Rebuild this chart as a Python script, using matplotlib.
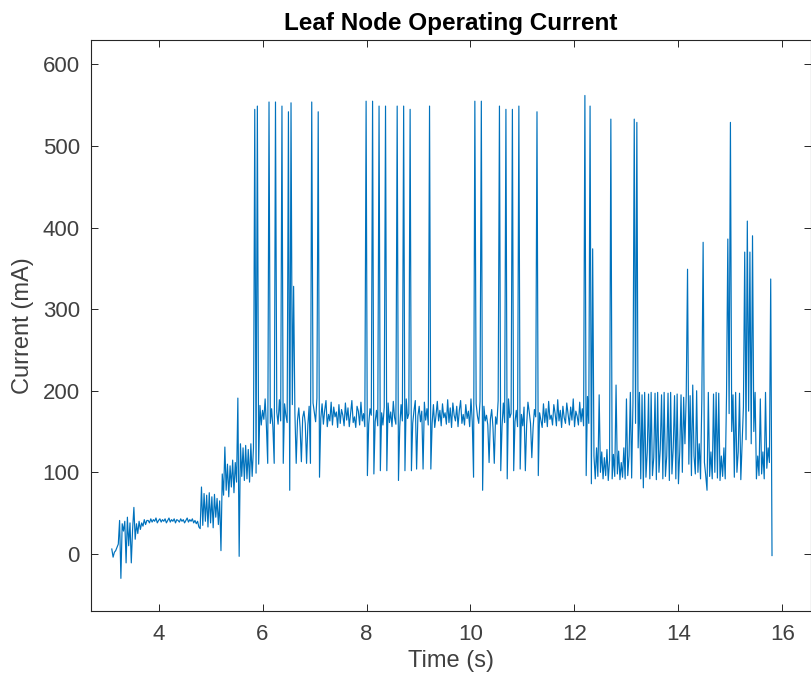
import numpy as np
import matplotlib.pyplot as plt

# ---- data (current in mA) ----
# segment bounds (s) and the samples inside each, evenly spaced
seg_a = (3.100, 3.775)
cur_a = [6, -4, 2, 4, 8, 12, 41, -30, 37, 28, 40, -11, 45, 10, 38, -11, 30, 57,
         18, 37, 25, 40, 30, 38, 34, 42, 36, 41]

seg_b = (3.800, 4.775)
cur_b = [41, 38, 43, 39, 42, 40, 44, 38, 41, 43, 39, 42, 40, 43, 38, 41, 44, 39,
         42, 40, 43, 38, 42, 41, 39, 43, 40, 42, 38, 41, 44, 39, 42, 40, 43, 38,
         41, 37, 40, 33]

seg_c = (4.800, 5.200)
cur_c = [31, 82, 35, 74, 40, 72, 33, 75, 38, 70, 32, 73, 45, 68, 36, 65, 4]

seg_d = (5.225, 5.925)
cur_d = [98, 72, 131, 78, 110, 70, 108, 82, 115, 75, 112, 88, 191, -3, 135, 95,
         130, 90, 133, 92, 128, 88, 135, 95, 130, 545, 99, 549, 110]

seg_e = (5.950, 12.350)
cur_e = [182, 158, 176, 165, 190, 156, 171, 185, 160, 178, 155, 187, 168, 174, 159, 189, 163, 180, 157, 184,
         170, 161, 188, 156, 176, 183, 158, 172, 190, 164, 179, 155, 186, 167, 175, 160, 189, 158, 181, 169,
         157, 185, 173, 162, 191, 155, 178, 166, 184, 159, 176, 188, 156, 171, 163, 186, 158, 180, 168, 174,
         155, 183, 160, 177, 170, 157, 185, 164, 179, 156, 172, 188, 161, 168, 155, 181, 175, 158, 186, 163,
         172, 156, 184, 166, 159, 178, 170, 155, 182, 162, 176, 157, 189, 165, 173, 158, 180, 168, 155, 185,
         161, 174, 156, 187, 167, 159, 179, 171, 156, 183, 163, 177, 158, 190, 166, 172, 155, 182, 160, 176,
         188, 157, 169, 181, 162, 175, 156, 186, 164, 178, 158, 172, 190, 160, 183, 155, 170, 187, 163, 176,
         157, 184, 167, 173, 159, 189, 161, 179, 155, 185, 170, 163, 181, 156, 176, 188, 160, 171, 158, 183,
         166, 175, 156, 190, 162, 178, 157, 184, 169, 160, 187, 155, 174, 181, 163, 170, 158, 186, 165, 177,
         155, 182, 168, 159, 188, 164, 173, 156, 185, 161, 179, 157, 190, 167, 172, 158, 183, 162, 176, 156,
         189, 163, 171, 157, 180, 166, 158, 186, 174, 160, 182, 155, 177, 168, 188, 159, 173, 164, 155, 184,
         161, 178, 156, 187, 165, 170, 158, 183, 172, 157, 189, 163, 176, 155, 181, 167, 160, 185, 171, 158,
         180, 164, 190, 156, 175, 169, 158, 186, 162, 178, 157, 184, 170, 193, 160, 188, 166, 195]

# spikes and drops sitting on top of segment e
spike_t = [6.125, 6.25, 6.375, 6.50, 6.55, 6.60, 6.95, 7.075, 8.00, 8.125, 8.25, 8.375,
           8.60, 8.725, 8.85, 9.20, 10.075, 10.20, 10.55, 10.675, 10.80, 10.925, 11.275,
           12.20, 12.30, 12.35]
spike_v = [554, 554, 549, 542, 553, 328, 554, 542, 555, 555, 549, 549,
           549, 549, 545, 549, 555, 555, 549, 545, 545, 549, 542,
           562, 549, 374]
drop_t = [6.10, 6.225, 6.40, 6.525, 6.65, 6.75, 6.85, 6.925, 7.10, 8.025, 8.15, 8.275,
          8.40, 8.625, 8.75, 8.875, 8.975, 9.10, 9.225, 10.05, 10.225, 10.35, 10.45,
          10.575, 10.70, 10.825, 10.95, 11.05, 11.175, 11.30, 12.225, 12.325]
drop_v = [111, 111, 111, 78, 111, 113, 111, 111, 94, 96, 98, 102,
          102, 90, 102, 102, 104, 104, 104, 94, 78, 112, 111,
          102, 92, 102, 104, 102, 118, 96, 96, 86]

seg_f = (12.375, 15.800)
cur_f = [120, 92, 130, 95, 195, 100, 125, 92, 118, 96, 128, 90, 115, 533, 92, 122,
         95, 207, 98, 126, 91, 112, 94, 130, 92, 190, 96, 120, 198, 93, 185, 533,
         160, 529, 130, 198, 92, 195, 81, 198, 94, 125, 196, 92, 198, 96, 118, 197,
         91, 198, 100, 128, 195, 92, 198, 95, 120, 197, 90, 198, 98, 130, 194, 92,
         196, 86, 125, 195, 100, 192, 135, 195, 349, 110, 194, 96, 207, 120, 98, 200,
         100, 135, 92, 190, 382, 112, 96, 78, 198, 95, 125, 92, 196, 100, 198, 93,
         197, 90, 120, 95, 130, 92, 195, 386, 172, 529, 150, 195, 94, 198, 100, 125,
         197, 91, 135, 180, 370, 140, 408, 175, 370, 135, 390, 150, 198, 92, 120, 96,
         190, 98, 125, 92, 198, 105, 130, 112, 337, -2]

segments = [(seg_a, cur_a), (seg_b, cur_b), (seg_c, cur_c), (seg_d, cur_d),
            (seg_e, cur_e), (seg_f, cur_f)]

# ---- assemble the trace ----
time = np.concatenate([np.linspace(s[0], s[1], len(v)) for s, v in segments])
current = np.concatenate([np.array(v, dtype=float) for s, v in segments])
for tt, vv in list(zip(drop_t, drop_v)) + list(zip(spike_t, spike_v)):
    current[np.argmin(np.abs(time - tt))] = vv

# ---- plot, MATLAB-like look ----
plt.rcParams['font.family'] = ['Liberation Sans', 'DejaVu Sans']
axcol = '#262626'

fig = plt.figure(figsize=(8.12, 6.86), dpi=100)
ax = fig.add_axes([91 / 812, 1 - 611 / 686, (811 - 91) / 812, (611 - 40) / 686])
ax.plot(time, current, color='#0072BD', linewidth=0.85)

ax.set_xlim(2.70, 16.55)
ax.set_ylim(-70, 630)
ax.set_xticks(np.arange(4, 17, 2))
ax.set_yticks(np.arange(0, 601, 100))
ax.tick_params(direction='in', top=True, right=True, length=5, width=0.7,
               colors=axcol, labelsize=16)
ax.tick_params(axis='x', pad=9)
ax.tick_params(axis='y', pad=8)
ax.tick_params(labelcolor='#404040')
for sp in ax.spines.values():
    sp.set_color(axcol)
    sp.set_linewidth(0.8)

ax.set_title('Leaf Node Operating Current', fontsize=17.5, fontweight='bold',
             color='black', pad=7)
ax.set_xlabel('Time (s)', fontsize=17, color='#404040', labelpad=4)
ax.set_ylabel('Current (mA)', fontsize=17, color='#404040', labelpad=6)

fig.savefig('out.png', dpi=100)
